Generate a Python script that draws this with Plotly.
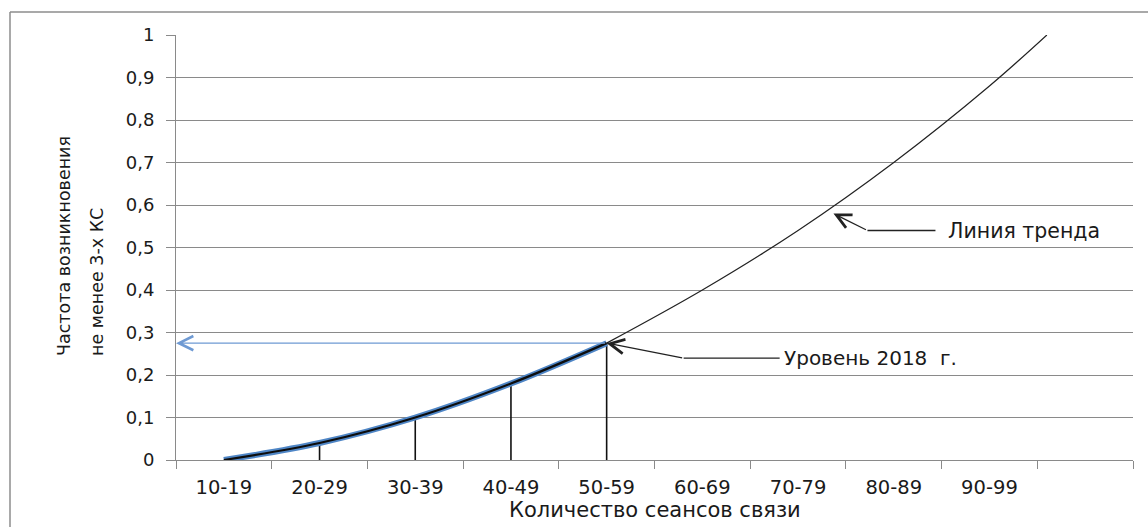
import plotly.graph_objects as go

# ---- data ----
categories = ["10-19", "20-29", "30-39", "40-49", "50-59",
              "60-69", "70-79", "80-89", "90-99"]
n_slots = 10                      # the axis has one extra, unlabeled slot
freq = [0.0, 0.04, 0.10, 0.18, 0.275]          # observed frequency, first 5 groups
trend_x = [4, 5, 6, 7, 8, 8.6]                  # trend line (category index)
trend_y = [0.275, 0.40, 0.54, 0.70, 0.88, 1.0]
level_2018 = 0.275
trend_label_at = (6.37, 0.58)
y_ticks = [0, 0.1, 0.2, 0.3, 0.4, 0.5, 0.6, 0.7, 0.8, 0.9, 1]

# ---- layout geometry ----
W, H = 1148, 527
L, R, T, B = 176, 15, 35, 67
PW, PH = W - L - R, H - T - B

def px(xp):
    return (xp - L) / PW

def py(yp):
    return (H - B - yp) / PH

FONT = "DejaVu Sans"
TXT = "#1a1a1a"
GRID = "#8a8a8a"

idx = list(range(len(freq)))

fig = go.Figure()

# vertical drop lines from each observed point to the axis
drop_x, drop_y = [], []
for i, v in zip(idx[1:], freq[1:]):
    drop_x += [i, i, None]
    drop_y += [0, v, None]
fig.add_trace(go.Scatter(x=drop_x, y=drop_y, mode="lines",
                         line=dict(color="#111111", width=1.6),
                         hoverinfo="skip", showlegend=False))

# trend line
fig.add_trace(go.Scatter(x=trend_x, y=trend_y, mode="lines",
                         line=dict(color="#222222", width=1.2, shape="spline"),
                         showlegend=False))

# observed curve: blue glow under a black line
fig.add_trace(go.Scatter(x=idx, y=freq, mode="lines",
                         line=dict(color="#4f86c6", width=6, shape="spline"),
                         showlegend=False, hoverinfo="skip"))
fig.add_trace(go.Scatter(x=idx, y=freq, mode="lines",
                         line=dict(color="#0d0d0d", width=2.2, shape="spline"),
                         showlegend=False))

annotations = []

# blue arrow from the 2018 point to the Y axis
annotations.append(dict(x=-0.5, y=level_2018, xref="x", yref="y",
                        ax=len(freq) - 1, ay=level_2018, axref="x", ayref="y",
                        text="", showarrow=True, arrowhead=5, arrowsize=2.0,
                        arrowwidth=1.4, arrowcolor="#6f9ad3"))

# callout "Уровень 2018 г."
annotations.append(dict(x=len(freq) - 1, y=level_2018, xref="x", yref="y",
                        ax=77, ay=15, text="", showarrow=True, arrowhead=5,
                        arrowsize=2.2, arrowwidth=1.3, arrowcolor="#222222"))
annotations.append(dict(x=len(freq) - 1, y=level_2018, xref="x", yref="y",
                        xshift=77, yshift=-15, ax=96, ay=0,
                        text="Уровень 2018\u00a0 г.", showarrow=True,
                        arrowhead=0, arrowwidth=1.3, arrowcolor="#222222",
                        xanchor="left", yanchor="middle", borderpad=3,
                        font=dict(family=FONT, size=20, color=TXT)))

# callout "Линия тренда"
annotations.append(dict(x=trend_label_at[0], y=trend_label_at[1], xref="x", yref="y",
                        ax=34, ay=17, text="", showarrow=True, arrowhead=5,
                        arrowsize=2.2, arrowwidth=1.3, arrowcolor="#222222"))
annotations.append(dict(x=trend_label_at[0], y=trend_label_at[1], xref="x", yref="y",
                        xshift=34, yshift=-17, ax=68, ay=0,
                        text="Линия тренда", showarrow=True,
                        arrowhead=0, arrowwidth=1.3, arrowcolor="#222222",
                        xanchor="left", yanchor="middle", borderpad=12,
                        font=dict(family=FONT, size=20.5, color=TXT)))

# axis titles
annotations.append(dict(x=px(64), y=py(358), xref="paper", yref="paper",
                        text="Частота возникновения", textangle=-90,
                        showarrow=False, xanchor="center", yanchor="bottom",
                        font=dict(family=FONT, size=17.5, color=TXT)))
annotations.append(dict(x=px(97), y=py(358), xref="paper", yref="paper",
                        text="не менее 3-х КС", textangle=-90,
                        showarrow=False, xanchor="center", yanchor="bottom",
                        font=dict(family=FONT, size=17.5, color=TXT)))
annotations.append(dict(x=px(655), y=py(510), xref="paper", yref="paper",
                        text="Количество сеансов связи", showarrow=False,
                        xanchor="center", yanchor="middle",
                        font=dict(family=FONT, size=21, color=TXT)))

shapes = [
    dict(type="line", xref="paper", yref="paper",
         x0=px(10), y0=py(12), x1=px(W + 5), y1=py(12),
         line=dict(color="#8c8c8c", width=1.5)),
    dict(type="line", xref="paper", yref="paper",
         x0=px(10), y0=py(12), x1=px(10), y1=py(H + 5),
         line=dict(color="#8c8c8c", width=1.5)),
]

fig.update_layout(
    width=W, height=H,
    margin=dict(l=L, r=R, t=T, b=B, pad=0),
    paper_bgcolor="white", plot_bgcolor="white",
    separators=", ",
    showlegend=False,
    annotations=annotations,
    shapes=shapes,
    font=dict(family=FONT, size=19, color=TXT),
    xaxis=dict(
        range=[-0.5, n_slots - 0.5],
        tickmode="array",
        tickvals=list(range(len(categories))),
        ticktext=categories,
        ticks="",
        showgrid=False,
        zeroline=False,
        showline=True, linecolor=GRID, linewidth=1,
        ticklabelstandoff=10,
        tickfont=dict(family=FONT, size=19.5, color=TXT),
        minor=dict(tickmode="array",
                   tickvals=[i - 0.5 for i in range(n_slots + 1)],
                   ticks="outside", ticklen=8, tickwidth=1, tickcolor=GRID,
                   showgrid=False),
        fixedrange=True,
    ),
    yaxis=dict(
        range=[0, 1],
        tickmode="array",
        tickvals=y_ticks,
        ticks="outside", ticklen=9, tickwidth=1, tickcolor=GRID,
        showgrid=True, gridcolor=GRID, gridwidth=1,
        zeroline=False,
        showline=True, linecolor=GRID, linewidth=1,
        ticklabelstandoff=8,
        tickfont=dict(family=FONT, size=18, color=TXT),
        fixedrange=True,
    ),
)

fig.write_html("out.html", config={"displayModeBar": False},
               post_script="document.body.style.margin='0px';"
                           "document.body.style.overflow='hidden';")
